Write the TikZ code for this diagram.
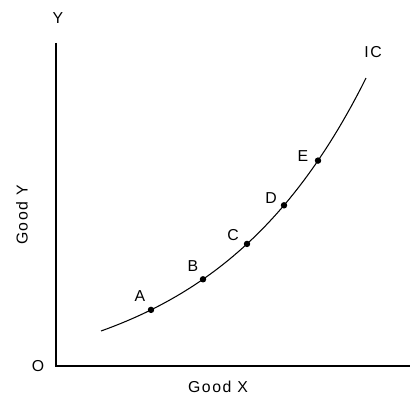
\documentclass[tikz,border=0pt]{standalone}
\usepackage{fontspec}
\setmainfont{Liberation Sans}[LetterSpace=10]
\usetikzlibrary{positioning, calc}

% height of the curve at a given x (picture pixels)
\newcommand{\icy}[1]{366-55*exp(0.0065*(#1-101))+20}

\begin{document}
\begin{tikzpicture}[
    x=0.03cm, y=-0.03cm,
    axis/.style={draw=black, line width=1.2pt},
    curve/.style={draw=black, line width=0.9pt},
    pt/.style={circle, fill=black, inner sep=0pt, minimum size=5.5pt},
    lbl/.style={font=\fontsize{13.5}{15}\selectfont, inner sep=0pt}
]
    \useasboundingbox (0,0) rectangle (414,396);

    % axes
    \coordinate (orig) at (56,366);
    \coordinate (ytop) at (56,43);
    \coordinate (xend) at (410,366);
    \draw[axis] (ytop) -- (orig) -- (xend);

    \node[lbl] (ylab) at (58,18) {Y};
    \node[lbl] (olab) at (38,366) {O};
    \node[lbl] (gx) at (218,387) {Good X};
    \node[lbl, rotate=90] (gy) at (22,215) {Good Y};

    % indifference curve
    \draw[curve] plot[domain=101:366, samples=80, smooth] (\x, {\icy{\x}});
    \node[pt] (A) at (151,{\icy{151}}) {};
    \node[pt] (B) at (203,{\icy{203}}) {};
    \node[pt] (C) at (247,{\icy{247}}) {};
    \node[pt] (D) at (284,{\icy{284}}) {};
    \node[pt] (E) at (318,{\icy{318}}) {};

    \node[lbl] (la) at (140,296) {A};
    \node[lbl] (lb) at (193,266) {B};
    \node[lbl] (lc) at (233,235) {C};
    \node[lbl] (ld) at (271,198) {D};
    \node[lbl] (le) at (303,156) {E};
    \node[lbl] (lic) at (373,52) {IC};
\end{tikzpicture}
\end{document}
